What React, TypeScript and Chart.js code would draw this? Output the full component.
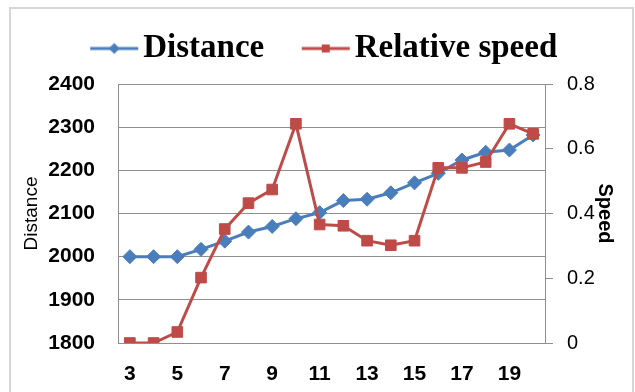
import React, { useEffect, useRef } from 'react';
import { Chart, registerables } from 'chart.js';

Chart.register(...registerables);

const categories = ['3', '4', '5', '6', '7', '8', '9', '10', '11', '12', '13', '14', '15', '16', '17', '18', '19', '20'];
const distance = [2000, 2000, 2000, 2017, 2036, 2057, 2070, 2088, 2102, 2130, 2133, 2148, 2171, 2193, 2224, 2242, 2247, 2282];
const relativeSpeed = [0, 0, 0.034, 0.202, 0.352, 0.432, 0.474, 0.677, 0.366, 0.362, 0.316, 0.302, 0.316, 0.541, 0.541, 0.559, 0.677, 0.646];
const xTickLabels = ['3', '5', '7', '9', '11', '13', '15', '17', '19'];
const seriesNames = ['Distance', 'Relative speed'];
const axisTitles = ['Distance', 'Speed'];

const BLUE = '#4A7EBB';
const RED = '#BE4B48';
const GRID = '#8f8f8f';
const SANS = "'Liberation Sans', Arial, sans-serif";
const SERIF = "'Liberation Serif', 'Times New Roman', serif";

function makeLegendIcon(color: string, marker: 'diamond' | 'square') {
  const c = document.createElement('canvas');
  c.width = 76;
  c.height = 20;
  const ctx = c.getContext('2d')!;
  ctx.strokeStyle = color;
  ctx.lineWidth = 3;
  ctx.beginPath();
  ctx.moveTo(26, 10);
  ctx.lineTo(74, 10);
  ctx.stroke();
  ctx.fillStyle = color;
  if (marker === 'diamond') {
    ctx.beginPath();
    ctx.moveTo(50, 4.5);
    ctx.lineTo(55.5, 10);
    ctx.lineTo(50, 15.5);
    ctx.lineTo(44.5, 10);
    ctx.closePath();
    ctx.fill();
  } else {
    ctx.fillRect(46, 6, 8, 8);
  }
  return c;
}

const legendHeight = {
  id: 'legendHeight',
  beforeInit(chart: any) {
    const lg = chart.legend;
    if (!lg) return;
    const orig = lg.fit;
    lg.fit = function () {
      orig.call(this);
      this.height = 77;
    };
  },
};

export default function App() {
  const ref = useRef<HTMLCanvasElement | null>(null);

  useEffect(() => {
    if (!ref.current) return;
    const blueIcon = makeLegendIcon(BLUE, 'diamond');
    const redIcon = makeLegendIcon(RED, 'square');
    const chart = new Chart(ref.current, {
      type: 'line',
      data: {
        labels: categories,
        datasets: [
          {
            label: seriesNames[0],
            data: distance,
            yAxisID: 'y',
            borderColor: BLUE,
            backgroundColor: BLUE,
            borderWidth: 3,
            pointStyle: 'rectRot',
            pointRadius: 7,
            pointBorderWidth: 1,
            pointBackgroundColor: BLUE,
            pointBorderColor: BLUE,
            tension: 0,
            order: 2,
          },
          {
            label: seriesNames[1],
            data: relativeSpeed,
            yAxisID: 'y1',
            borderColor: RED,
            backgroundColor: RED,
            borderWidth: 3,
            pointStyle: 'rect',
            pointRadius: 7.5,
            pointBorderWidth: 1,
            pointBackgroundColor: RED,
            pointBorderColor: RED,
            tension: 0,
            order: 1,
          },
        ],
      },
      options: {
        animation: false,
        responsive: false,
        devicePixelRatio: 1,
        layout: { padding: { left: 10, right: 10, top: 7, bottom: 10 } },
        plugins: {
          tooltip: { enabled: false },
          legend: {
            display: true,
            position: 'top',
            align: 'center',
            labels: {
              usePointStyle: true,
              pointStyleWidth: 49,
              padding: 25,
              color: '#000',
              font: { family: SERIF, size: 33, weight: 'bold' },
              generateLabels: () => [
                { text: seriesNames[0], pointStyle: blueIcon as any, fillStyle: BLUE, strokeStyle: BLUE, lineWidth: 0, hidden: false, datasetIndex: 0, fontColor: '#000' },
                { text: seriesNames[1], pointStyle: redIcon as any, fillStyle: RED, strokeStyle: RED, lineWidth: 0, hidden: false, datasetIndex: 1, fontColor: '#000' },
              ],
            },
          },
        },
        scales: {
          x: {
            type: 'category',
            offset: true,
            grid: { display: false, drawTicks: false },
            border: { display: true, color: GRID, width: 1 },
            ticks: {
              autoSkip: false,
              maxRotation: 0,
              padding: 19,
              color: '#000',
              font: { family: SANS, size: 21, weight: 'bold' },
              callback: (_v: any, index: number) => (xTickLabels.includes(categories[index]) ? categories[index] : ''),
            },
            afterFit: (s: any) => {
              s.height = 39;
            },
          },
          y: {
            position: 'left',
            min: 1800,
            max: 2400,
            ticks: {
              stepSize: 100,
              padding: 23,
              color: '#000',
              font: { family: SANS, size: 21, weight: 'bold' },
              callback: (v: any) => String(Math.round(Number(v))),
            },
            grid: { color: GRID, drawTicks: false, lineWidth: 1 },
            border: { color: GRID, width: 1 },
            title: {
              display: true,
              text: axisTitles[0],
              color: '#000',
              font: { family: SANS, size: 19 },
              padding: { top: 10, bottom: 0 },
            },
            afterFit: (s: any) => {
              s.width = 108;
            },
          },
          y1: {
            position: 'right',
            min: 0,
            max: 0.8,
            ticks: {
              stepSize: 0.2,
              padding: 14,
              color: '#000',
              font: { family: SANS, size: 20 },
              callback: (v: any) => String(Math.round(Number(v) * 10) / 10),
            },
            grid: { drawOnChartArea: false, drawTicks: true, tickLength: 8, color: GRID },
            border: { color: GRID, width: 1 },
            title: {
              display: true,
              text: axisTitles[1],
              color: '#000',
              font: { family: SANS, size: 20, weight: 'bold' },
              padding: { top: 8, bottom: 0 },
            },
            afterFit: (s: any) => {
              s.width = 80;
            },
          },
        },
      },
      plugins: [legendHeight],
    } as any);
    return () => chart.destroy();
  }, []);

  return (
    <div style={{ position: 'fixed', left: 0, top: 0, width: 635, height: 392, overflow: 'hidden', background: '#fff' }}>
      <canvas ref={ref} width={635} height={392} style={{ display: 'block', width: 635, height: 392 }} />
      <div
        style={{
          position: 'absolute',
          left: 9,
          top: 7,
          width: 625,
          height: 400,
          border: '2px solid #d6d6d6',
          boxSizing: 'border-box',
          pointerEvents: 'none',
        }}
      />
    </div>
  );
}
